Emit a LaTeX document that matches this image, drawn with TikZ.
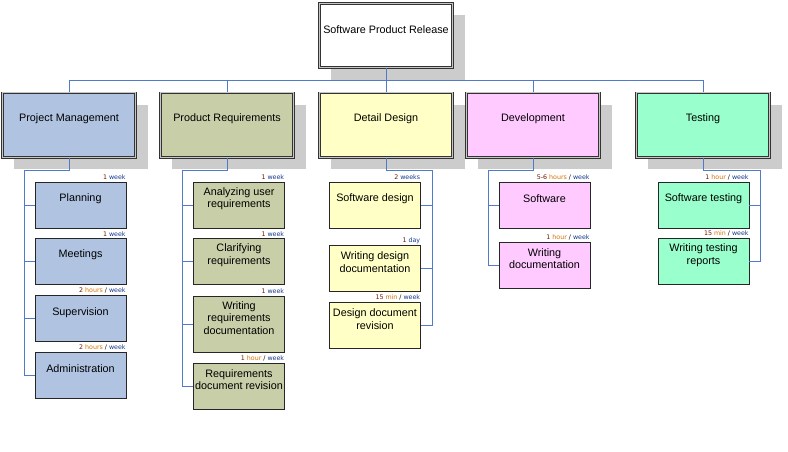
\documentclass[tikz,border=0pt]{standalone}
\usepackage{fontspec}
\setmainfont{Liberation Sans}
\newfontfamily\durfont{DejaVu Sans}
\usetikzlibrary{shadows}

\definecolor{pmfill}{RGB}{176,196,226}
\definecolor{prfill}{RGB}{200,206,168}
\definecolor{ddfill}{RGB}{255,255,198}
\definecolor{devfill}{RGB}{255,202,255}
\definecolor{tstfill}{RGB}{153,255,204}
\definecolor{linkblue}{RGB}{79,123,200}
\definecolor{numred}{RGB}{110,20,0}
\definecolor{unitorange}{RGB}{215,110,0}
\definecolor{unitblue}{RGB}{20,55,140}

\newcommand\durlbl[2]{\textcolor{numred}{#1}~\textcolor{unitblue}{#2}}
\newcommand\ratelbl[3]{\textcolor{numred}{#1}~\textcolor{unitorange}{#2} / \textcolor{unitblue}{#3}}

\tikzset{
  boxtext/.style={font=\fontsize{10.8}{12.5}\selectfont, align=center, yshift=6.3pt, inner sep=0pt},
  phase/.style={draw=black!80, line width=0.7pt, double=gray!45, double distance=1.2pt,
    minimum width=133.4pt, minimum height=64.4pt, inner sep=0pt,
    general shadow={fill=gray!40, shadow xshift=12pt, shadow yshift=-12pt}},
  task/.style={draw=black!85, line width=0.8pt, minimum width=91pt, minimum height=46pt, inner sep=0pt},
  dur/.style={font=\durfont\fontsize{6.3}{7}\selectfont, anchor=south east, inner sep=0.6pt, yshift=0.8pt},
  conn/.style={draw=linkblue, line width=0.9pt}
}

\begin{document}
\begin{tikzpicture}[x=1pt,y=-1pt]
\useasboundingbox (0,0) rectangle (788,451);

% top and phases
\node[phase, fill=white, label={[boxtext]center:Software Product Release}] (release) at (386,35.5) {};
\node[phase, fill=pmfill, label={[boxtext]center:Project Management}] (pm) at (69,125) {};
\node[phase, fill=prfill, label={[boxtext]center:Product Requirements}] (pr) at (227,125) {};
\node[phase, fill=ddfill, label={[boxtext]center:Detail Design}] (dd) at (386,125) {};
\node[phase, fill=devfill, label={[boxtext]center:Development}] (dev) at (533,125) {};
\node[phase, fill=tstfill, label={[boxtext]center:Testing}] (tst) at (703,125) {};

% project management
\node[task, fill=pmfill, label={[boxtext]center:Planning}, label={[dur]north east:\durlbl{1}{week}}] (plan) at (80.5,205) {};
\node[task, fill=pmfill, label={[boxtext]center:Meetings}, label={[dur]north east:\durlbl{1}{week}}] (meet) at (80.5,261.5) {};
\node[task, fill=pmfill, label={[boxtext]center:Supervision}, label={[dur]north east:\ratelbl{2}{hours}{week}}] (sup) at (80.5,318.5) {};
\node[task, fill=pmfill, label={[boxtext]center:Administration}, label={[dur]north east:\ratelbl{2}{hours}{week}}] (adm) at (80.5,375) {};

% product requirements
\node[task, fill=prfill, label={[boxtext]center:Analyzing user\\requirements}, label={[dur]north east:\durlbl{1}{week}}] (ana) at (239,205) {};
\node[task, fill=prfill, label={[boxtext]center:Clarifying\\requirements}, label={[dur]north east:\durlbl{1}{week}}] (cla) at (239,261.5) {};
\node[task, fill=prfill, minimum height=56pt, label={[boxtext]center:Writing\\requirements\\documentation}, label={[dur]north east:\durlbl{1}{week}}] (wrd) at (239,324) {};
\node[task, fill=prfill, label={[boxtext]center:Requirements\\document revision}, label={[dur]north east:\ratelbl{1}{hour}{week}}] (rev) at (239,386) {};

% detail design
\node[task, fill=ddfill, label={[boxtext]center:Software design}, label={[dur]north east:\durlbl{2}{weeks}}] (sd) at (375,205) {};
\node[task, fill=ddfill, label={[boxtext]center:Writing design\\documentation}, label={[dur]north east:\durlbl{1}{day}}] (wdd) at (375,268.5) {};
\node[task, fill=ddfill, label={[boxtext]center:Design document\\revision}, label={[dur]north east:\ratelbl{15}{min}{week}}] (ddr) at (375,325.5) {};

% development
\node[task, fill=devfill, label={[boxtext]center:Software}, label={[dur]north east:\ratelbl{5-6}{hours}{week}}] (sw) at (544.5,205) {};
\node[task, fill=devfill, label={[boxtext]center:Writing\\documentation}, label={[dur]north east:\ratelbl{1}{hour}{week}}] (wdoc) at (544.5,265) {};

% testing
\node[task, fill=tstfill, label={[boxtext]center:Software testing}, label={[dur]north east:\ratelbl{1}{hour}{week}}] (st) at (703.5,205) {};
\node[task, fill=tstfill, label={[boxtext]center:Writing testing\\reports}, label={[dur]north east:\ratelbl{15}{min}{week}}] (wtr) at (703.5,261.5) {};

% connectors
\coordinate (bus) at (386,80);
\draw[conn] (release.south) -- (bus);
\foreach \p in {pm,pr,dd,dev,tst}
  \draw[conn] (bus) -| (\p.north);

\coordinate (pmsp) at (24,170);
\draw[conn] (pm.south) |- (pmsp);
\foreach \t in {plan,meet,sup,adm}
  \draw[conn] (pmsp) |- (\t.west);

\coordinate (prsp) at (182,170);
\draw[conn] (pr.south) |- (prsp);
\foreach \t in {ana,cla,wrd,rev}
  \draw[conn] (prsp) |- (\t.west);

\coordinate (ddsp) at (432,170);
\draw[conn] (dd.south) |- (ddsp);
\foreach \t in {sd,wdd,ddr}
  \draw[conn] (ddsp) |- (\t.east);

\coordinate (devsp) at (488,170);
\draw[conn] (dev.south) |- (devsp);
\foreach \t in {sw,wdoc}
  \draw[conn] (devsp) |- (\t.west);

\coordinate (tstsp) at (760,170);
\draw[conn] (tst.south) |- (tstsp);
\foreach \t in {st,wtr}
  \draw[conn] (tstsp) |- (\t.east);
\end{tikzpicture}
\end{document}
